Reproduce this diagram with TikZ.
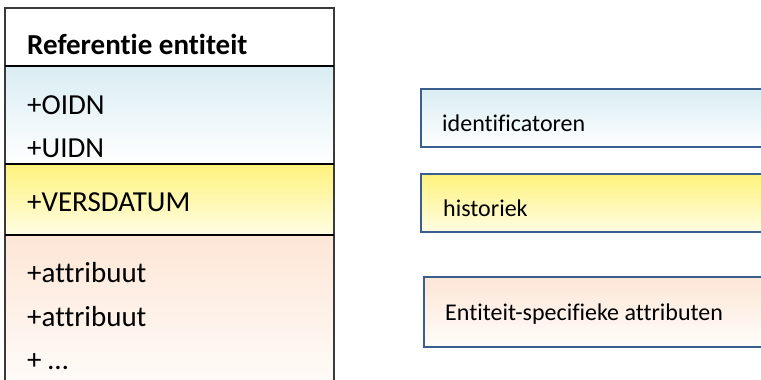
\documentclass[tikz,border=0pt]{standalone}
\usepackage{fontspec}
\setmainfont[RawFeature={-liga;-clig;-calt;-dlig}]{Carlito}
\definecolor{bluetop}{HTML}{D9EDF3}
\definecolor{yeltop}{HTML}{FFF27C}
\definecolor{yelbot}{HTML}{FFFDE4}
\definecolor{peachtop}{HTML}{FDE6D6}
\definecolor{peachbot}{HTML}{FFFCFA}
\definecolor{boxedge}{HTML}{3A5F8E}
\definecolor{outergray}{HTML}{3A3A3A}
\tikzset{
  bigtxt/.style={anchor=base west, inner sep=0pt, font=\fontsize{29}{34}\selectfont},
  smalltxt/.style={anchor=base west, inner sep=0pt, font=\fontsize{24}{29}\selectfont},
  sepline/.style={draw=black, line width=1.6pt},
  legendbox/.style={draw=boxedge, line width=1.6pt},
}
\begin{document}
\begin{tikzpicture}[x=1pt,y=-1pt]
\useasboundingbox (0,0) rectangle (761,380);
% left entity box sections
\fill[top color=bluetop, bottom color=white] (5,66) rectangle (334,164);
\fill[top color=yeltop, bottom color=yelbot] (5,164) rectangle (334,235);
\fill[top color=peachtop, bottom color=peachbot] (5,235) rectangle (334,390);
\draw[draw=outergray, line width=1.6pt] (5,390) -- (5,8) -- (334,8) -- (334,390);
\draw[sepline] (5,66) -- (334,66);
\draw[sepline] (5,164) -- (334,164);
\draw[sepline] (5,235) -- (334,235);
% texts
\node[bigtxt, font=\fontsize{29}{34}\selectfont\bfseries] (title) at (27,54) {Referentie entiteit};
\node[bigtxt] (oidn) at (27,114) {+OIDN};
\node[bigtxt] (uidn) at (27,157) {+UIDN};
\node[bigtxt] (vers) at (27,211) {+VERSDATUM};
\node[bigtxt] (attr1) at (27,282) {+attribuut};
\node[bigtxt] (attr2) at (27,326) {+attribuut};
\node[bigtxt] (more) at (27,369) {+ \dots};
% legend boxes
\path[legendbox, top color=bluetop, bottom color=white] (421,89) rectangle (775,147);
\path[legendbox, top color=yeltop, bottom color=yelbot] (421,174) rectangle (775,232);
\path[legendbox, top color=peachtop, bottom color=peachbot] (424,277) rectangle (775,347);
\node[smalltxt] (lid) at (442,131) {identificatoren};
\node[smalltxt] (lhist) at (443,216) {historiek};
\node[smalltxt] (lattr) at (445,320) {Entiteit-specifieke attributen};
\end{tikzpicture}
\end{document}
